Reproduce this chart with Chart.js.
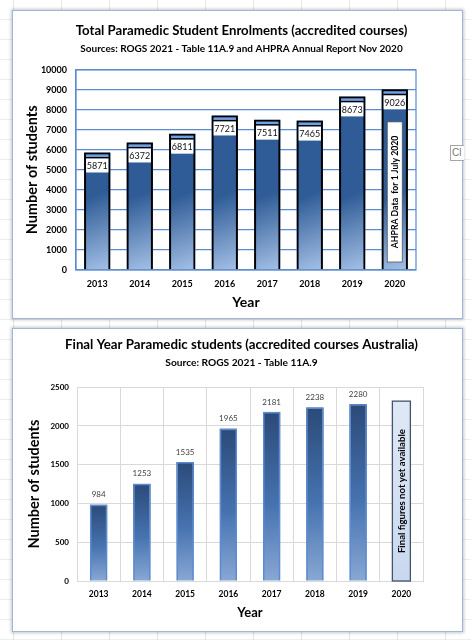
<!DOCTYPE html>
<html><head><meta charset="utf-8">
<script src="https://cdn.jsdelivr.net/npm/chart.js@4.4.0/dist/chart.umd.min.js"></script>
<style>
html,body{margin:0;padding:0;width:471px;height:640px;overflow:hidden;}
body{position:relative;background-color:#fff;
 background-image:repeating-linear-gradient(to right,transparent 0,transparent 13px,#e4e4e4 13px,#e4e4e4 14px,transparent 14px,transparent 48px),
 repeating-linear-gradient(to bottom,transparent 0,transparent 19px,#eeeeee 19px,#eeeeee 20px);}
.box{position:absolute;left:12px;width:449px;background:#fff;border:1px solid #9fb6dd;box-shadow:0 0 3px 1px rgba(0,0,0,0.22);}
#b1{top:10px;height:307px;}
#b2{top:328px;height:302px;}
.box canvas{position:absolute;left:0;top:0;}
#cl{position:absolute;left:450px;top:145px;width:12px;height:14px;border:1px solid #a6a6a6;border-right:none;background:#fff;font:10px "Liberation Sans",sans-serif;color:#777;overflow:hidden;line-height:14px;padding-left:1px;z-index:3;}
</style></head>
<body>
<div class="box" id="b1"><canvas id="c1" width="449" height="307"></canvas></div>
<div class="box" id="b2"><canvas id="c2" width="449" height="302"></canvas></div>
<div id="cl">Cl</div>
<script>
// ---------- data ----------
const years = ['2013','2014','2015','2016','2017','2018','2019','2020'];
const totalEnrolments = [5871, 6372, 6811, 7721, 7511, 7465, 8673, 9026];
const finalYearStudents = [984, 1253, 1535, 1965, 2181, 2238, 2280, null];
const totalAxis = {min: 0, max: 10000, step: 1000};
const finalAxis = {min: 0, max: 2500, step: 500};
const title1 = 'Total Paramedic Student Enrolments (accredited courses)';
const subtitle1 = 'Sources: ROGS 2021 - Table 11A.9 and AHPRA Annual Report Nov 2020';
const title2 = 'Final Year Paramedic students (accredited courses Australia)';
const subtitle2 = 'Source: ROGS 2021 - Table 11A.9';
const yTitle = 'Number of students';
const xTitle = 'Year';
const ahpraNote = 'AHPRA Data  for 1 July 2020';
const ahpraNoteRange = [400, 7400];
const finalNote = 'Final figures not yet available';
const finalNoteTop = 2320;
const noteYear = '2020';

Chart.defaults.font.family = 'Lato, "Open Sans", sans-serif';
Chart.defaults.color = '#000';
Chart.defaults.animation = false;

const plainTick = v => String(v);

function dummyRight(w){
  return {position:'right', display:true, grid:{display:false}, border:{display:false},
          ticks:{display:false}, afterFit(s){ s.width = w; }};
}

// ---------- chart 1 ----------
const plugin1 = {
  id:'p1',
  beforeDatasetsDraw(chart){
    const ctx = chart.ctx;
    chart.getDatasetMeta(0).data.forEach(el=>{
      const l = el.x - el.width/2, r = el.x + el.width/2, t = el.y, b = el.base;
      const g = ctx.createLinearGradient(l, b - 70, r, b);
      g.addColorStop(0, '#2f5c96');
      g.addColorStop(1, '#a4c0e6');
      ctx.fillStyle = g;
      ctx.fillRect(l, t, r - l, b - t);
    });
  },
  afterDatasetsDraw(chart){
    const ctx = chart.ctx;
    const ds = chart.data.datasets[0].data;
    chart.getDatasetMeta(0).data.forEach((el,i)=>{
      const l = el.x - el.width/2, r = el.x + el.width/2, t = el.y;
      ctx.fillStyle = '#72a0dc';
      ctx.fillRect(l+2, t+2, r-l-4, 2.5);
      ctx.fillStyle = '#000';
      ctx.fillRect(l+2, t+4.5, r-l-4, 1.5);
      ctx.fillStyle = '#fff';
      ctx.fillRect(l+2, t+6, r-l-4, 14);
      ctx.fillStyle = '#111';
      ctx.font = '9px Lato';
      ctx.textAlign = 'center'; ctx.textBaseline = 'middle';
      ctx.fillText(String(ds[i]), el.x, t + 13.5);
    });
    // note box on 2020 bar
    const xs = chart.scales.x, ys = chart.scales.y;
    const cx = xs.getPixelForValue(years.indexOf(noteYear));
    const top = ys.getPixelForValue(ahpraNoteRange[1]);
    const bot = ys.getPixelForValue(ahpraNoteRange[0]);
    ctx.fillStyle = '#fff';
    ctx.fillRect(cx - 7.5, top, 15, bot - top);
    ctx.strokeStyle = '#555'; ctx.lineWidth = 0.8;
    ctx.strokeRect(cx - 7.5, top, 15, bot - top);
    ctx.save();
    ctx.translate(cx + 0.5, (top + bot)/2);
    ctx.rotate(-Math.PI/2);
    ctx.fillStyle = '#000';
    ctx.font = 'bold 8.7px Lato';
    ctx.textAlign = 'center'; ctx.textBaseline = 'middle';
    ctx.fillText(ahpraNote, 0, 0);
    ctx.restore();
  },
  afterDraw(chart){
    const a = chart.chartArea, ctx = chart.ctx;
    ctx.strokeStyle = '#5b8bd0'; ctx.lineWidth = 1.2;
    ctx.strokeRect(a.left, a.top, a.right - a.left, a.bottom - a.top);
  }
};

new Chart(document.getElementById('c1'), {
  type:'bar',
  data:{labels:years, datasets:[{data:totalEnrolments, backgroundColor:'rgba(0,0,0,0)',
        borderColor:'#000', borderWidth:2, barPercentage:0.62, categoryPercentage:1}]},
  options:{
    responsive:false,
    layout:{padding:{left:8, right:0, top:0, bottom:0}},
    plugins:{
      legend:{display:false}, tooltip:{enabled:false},
      title:{display:true, text:title1, font:{size:13.2, weight:'bold'}, color:'#000', padding:{top:12, bottom:3}},
      subtitle:{display:true, text:subtitle1, font:{size:10, weight:'bold'}, color:'#000', padding:{top:1, bottom:15}}
    },
    scales:{
      x:{grid:{display:false, drawTicks:false}, border:{display:false},
         ticks:{font:{size:9, weight:'bold'}, color:'#000', padding:9},
         title:{display:true, text:xTitle, font:{size:14, weight:'bold'}, color:'#000', padding:{top:0, bottom:7}},
         afterFit(s){ s.height = 48; }},
      y:{min:totalAxis.min, max:totalAxis.max,
         ticks:{stepSize:totalAxis.step, font:{size:9, weight:'bold'}, color:'#000', padding:9, callback:plainTick},
         grid:{color:'#5b8bd0', lineWidth:1.2, drawTicks:false},
         border:{display:true, color:'#5b8bd0', width:1.2},
         title:{display:true, text:yTitle, font:{size:14.5, weight:'bold'}, color:'#000', padding:{top:3, bottom:0}},
         afterFit(s){ s.width = 55; }},
      y2: dummyRight(46)
    }
  },
  plugins:[plugin1]
});

// ---------- chart 2 ----------
const plugin2 = {
  id:'p2',
  beforeDatasetsDraw(chart){
    const ctx = chart.ctx;
    chart.getDatasetMeta(0).data.forEach((el,i)=>{
      if (finalYearStudents[i] == null) return;
      const l = el.x - el.width/2, r = el.x + el.width/2, t = el.y, b = el.base;
      const g = ctx.createLinearGradient(0, t, 0, b);
      g.addColorStop(0, '#2b4a78');
      g.addColorStop(0.55, '#4673b0');
      g.addColorStop(1, '#88a7d4');
      ctx.fillStyle = g;
      ctx.fillRect(l, t, r - l, b - t);
    });
  },
  afterDatasetsDraw(chart){
    const ctx = chart.ctx;
    chart.getDatasetMeta(0).data.forEach((el,i)=>{
      const v = finalYearStudents[i];
      if (v == null) return;
      ctx.fillStyle = '#404040';
      ctx.font = '8px Lato';
      ctx.textAlign = 'center'; ctx.textBaseline = 'middle';
      ctx.fillText(String(v), el.x, el.y - 10);
    });
    const xs = chart.scales.x, ys = chart.scales.y;
    const cx = xs.getPixelForValue(years.indexOf(noteYear));
    const top = ys.getPixelForValue(finalNoteTop);
    const bot = ys.getPixelForValue(0);
    const g = ctx.createLinearGradient(0, top, 0, bot);
    g.addColorStop(0, '#dfe8f6'); g.addColorStop(1, '#c9d8ef');
    ctx.fillStyle = g;
    ctx.fillRect(cx - 9, top, 18, bot - top);
    ctx.strokeStyle = '#44546a'; ctx.lineWidth = 1.3;
    ctx.strokeRect(cx - 9, top, 18, bot - top);
    ctx.save();
    ctx.translate(cx + 0.5, (top + bot)/2);
    ctx.rotate(-Math.PI/2);
    ctx.fillStyle = '#000';
    ctx.font = 'bold 9.6px Lato';
    ctx.textAlign = 'center'; ctx.textBaseline = 'middle';
    ctx.fillText(finalNote, 0, 0);
    ctx.restore();
  }
};

new Chart(document.getElementById('c2'), {
  type:'bar',
  data:{labels:years, datasets:[{data:finalYearStudents, backgroundColor:'rgba(0,0,0,0)',
        borderColor:'#5b8bd0', borderWidth:1.5, barPercentage:0.4, categoryPercentage:1}]},
  options:{
    responsive:false,
    layout:{padding:{left:8, right:0, top:0, bottom:0}},
    plugins:{
      legend:{display:false}, tooltip:{enabled:false},
      title:{display:true, text:title2, font:{size:13.3, weight:'bold'}, color:'#000', padding:{top:8, bottom:3}},
      subtitle:{display:true, text:subtitle2, font:{size:10.2, weight:'bold'}, color:'#000', padding:{top:1, bottom:18}}
    },
    scales:{
      x:{grid:{display:true, color:'#d9d9d9', drawTicks:false}, border:{display:true, color:'#d9d9d9'},
         ticks:{font:{size:8.5, weight:'bold'}, color:'#000', padding:8},
         title:{display:true, text:xTitle, font:{size:13, weight:'bold'}, color:'#000', padding:{top:0, bottom:10}},
         afterFit(s){ s.height = 50; }},
      y:{min:finalAxis.min, max:finalAxis.max,
         ticks:{stepSize:finalAxis.step, font:{size:8, weight:'bold'}, color:'#000', padding:8, callback:plainTick},
         grid:{color:'#d9d9d9', drawTicks:false},
         border:{display:true, color:'#d9d9d9'},
         title:{display:true, text:yTitle, font:{size:14.5, weight:'bold'}, color:'#000', padding:{top:5, bottom:0}},
         afterFit(s){ s.width = 56; }},
      y2: dummyRight(39)
    }
  },
  plugins:[plugin2]
});
</script>
</body></html>
